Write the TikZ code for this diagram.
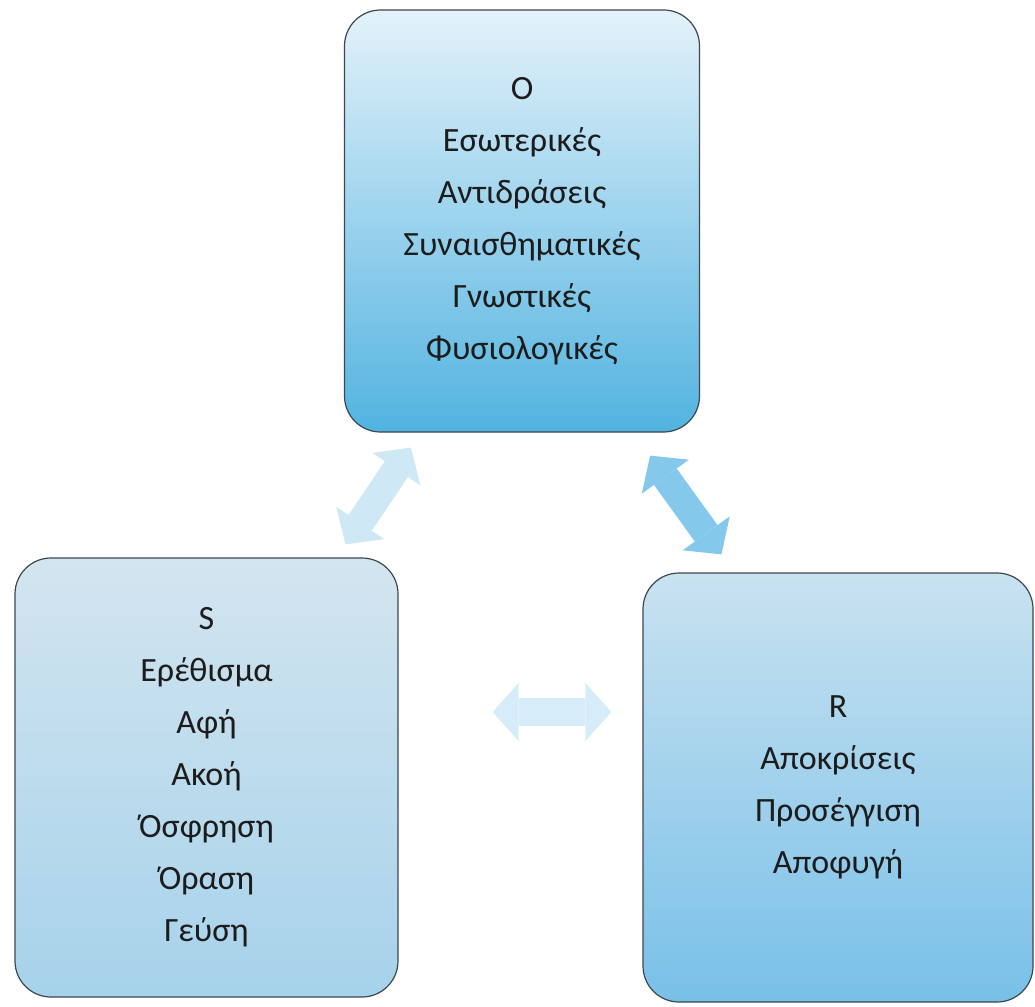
\documentclass[tikz,border=0pt]{standalone}
\usepackage{fontspec}
\setmainfont{Carlito}
\usetikzlibrary{arrows.meta,calc}
\definecolor{otop}{HTML}{E4F2FA}
\definecolor{obot}{HTML}{52B3E0}
\definecolor{stop}{HTML}{D3E5EF}
\definecolor{sbot}{HTML}{A6D2EB}
\definecolor{rtop}{HTML}{C9E2F0}
\definecolor{rbot}{HTML}{78C0E8}
\definecolor{edge}{HTML}{3C4750}
\definecolor{txt}{HTML}{1C1C1C}
\definecolor{arrA}{HTML}{CFE8F6}
\definecolor{arrB}{HTML}{84C9EC}
\definecolor{arrC}{HTML}{D6ECF8}
\tikzset{
  box/.style={draw=edge, line width=1.2pt, rounded corners=36pt, align=center,
    inner sep=0pt, text=txt, font=\fontsize{34}{52}\selectfont},
  blockarrow/.style={line width=28pt,
    {Triangle[width=58pt,length=26pt,line width=0pt]}-{Triangle[width=58pt,length=26pt,line width=0pt]}}
}
\begin{document}
\begin{tikzpicture}[x=1pt,y=-1pt]
\useasboundingbox[fill=white] (0,0) rectangle (1035,1006);
\node[box, top color=otop, bottom color=obot, minimum width=355pt, minimum height=422pt] (O) at (522,221)
  {O\\Εσωτερικές\\Αντιδράσεις\\Συναισθηματικές\\Γνωστικές\\Φυσιολογικές};
\node[box, top color=stop, bottom color=sbot, minimum width=383pt, minimum height=439pt] (S) at (206.5,777.5)
  {S\\Ερέθισμα\\Αφή\\Ακοή\\Όσφρηση\\Όραση\\Γεύση};
\node[box, top color=rtop, bottom color=rbot, minimum width=390pt, minimum height=429pt] (R) at (838,787.5)
  {R\\Αποκρίσεις\\Προσέγγιση\\Αποφυγή};
\coordinate (a1o) at ($(O.south west)+(67,15)$);
\coordinate (a1s) at ($(S.north east)+(-53,-13)$);
\coordinate (a2o) at ($(O.south east)+(-50,23)$);
\coordinate (a2r) at ($(R.north west)+(79,-18)$);
\coordinate (a3s) at ($(S.east)+(94,-65.5)$);
\coordinate (a3r) at ($(R.west)+(-31,-75.5)$);
\draw[blockarrow, draw=arrA, fill=arrA] (a1s) -- (a1o);
\draw[blockarrow, draw=arrB, fill=arrB] (a2o) -- (a2r);
\draw[blockarrow, draw=arrC, fill=arrC] (a3s) -- (a3r);
\end{tikzpicture}
\end{document}
